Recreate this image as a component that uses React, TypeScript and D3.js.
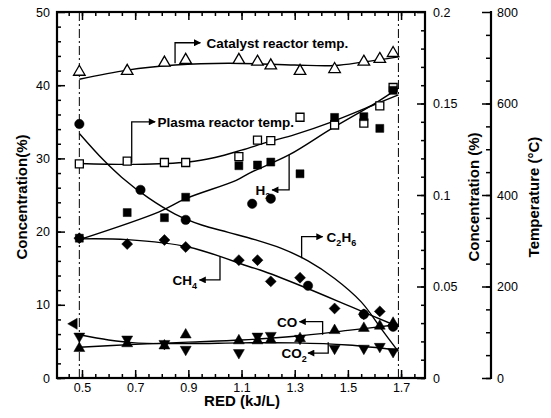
import { useEffect, useRef } from 'react';
import * as d3 from 'd3';

// RED (kJ/L) of the runs
const redX = [0.49, 0.67, 0.81, 0.89, 1.09, 1.16, 1.21, 1.32, 1.45, 1.56, 1.62, 1.67];
// concentrations (%) on left axis
const h2 = [19.1, 22.6, 21.9, 24.7, 29.0, 29.1, 29.5, 27.9, 35.6, 35.7, 34.1, 39.3];
const ch4 = [19.1, 18.3, 18.85, 17.9, 16.1, 16.1, 13.2, 13.7, 9.5, 8.7, 9.1, 7.2];
const co = [4.05, 4.7, 4.4, 5.9, 5.1, 5.1, 5.2, 5.4, 6.5, 6.8, 7.1, 7.5];
const co2 = [5.7, 5.3, 4.7, 3.9, 3.45, 5.7, 5.8, 5.4, 4.05, 4.05, 4.3, 3.6];
const c2h6X = [0.49, 0.72, 0.89, 1.14, 1.21, 1.35, 1.56, 1.67];
const c2h6 = [34.7, 25.7, 21.6, 23.8, 24.5, 12.6, 8.7, 7.0];
const strayX = [0.47];
const stray = [7.4];
// temperatures (°C) on far right axis
const catalystT = [669, 671, 689, 695, 695, 691, 683, 671, 675, 691, 697, 710];
const plasmaT = [468, 474, 471, 471, 484, 520, 519, 570, 553, 557, 595, 635];

// fitted curves
const h2FitX = [0.49, 0.79, 0.89, 1.08, 1.13, 1.28, 1.44, 1.61, 1.69];
const h2Fit = [18.9, 22.7, 24.5, 27.0, 28.0, 30.5, 34.1, 37.7, 39.6];
const c2h6FitX = [0.49, 0.58, 0.65, 0.75, 0.85, 0.95, 1.05, 1.15, 1.25, 1.35, 1.45, 1.55, 1.63, 1.69];
const c2h6Fit = [33.4, 29.8, 27.4, 24.6, 22.4, 20.9, 19.9, 18.9, 17.7, 16.0, 13.6, 10.4, 6.5, 3.6];
const ch4FitX = [0.49, 0.67, 0.9, 1.13, 1.17, 1.33, 1.52, 1.69];
const ch4Fit = [19.0, 18.9, 17.9, 15.2, 14.75, 12.5, 9.6, 7.0];
const coFitX = [0.49, 0.7, 0.9, 1.1, 1.3, 1.5, 1.69];
const coFit = [4.2, 4.6, 4.9, 5.2, 5.7, 6.5, 7.3];
const co2FitX = [0.49, 0.6, 0.7, 0.9, 1.1, 1.3, 1.5, 1.69];
const co2Fit = [5.9, 5.2, 4.8, 4.7, 4.8, 4.8, 4.5, 3.8];
const catFitX = [0.49, 0.67, 0.85, 1.05, 1.3, 1.45, 1.56, 1.69];
const catFit = [653, 673, 684, 688, 684, 683, 691, 702];
const plasmaFitX = [0.49, 0.7, 0.9, 1.0, 1.1, 1.2, 1.3, 1.44, 1.61, 1.69];
const plasmaFit = [469, 467, 472, 482, 498, 516, 532, 560, 600, 619];

const xTicks = [0.5, 0.7, 0.9, 1.1, 1.3, 1.5, 1.7];
const leftTicks = [0, 10, 20, 30, 40, 50];
const concTicks = [0, 0.05, 0.1, 0.15, 0.2];
const tempTicks = [0, 200, 400, 600, 800];
const limits = [0.49, 1.69];

const FONT = 'Liberation Sans, Arial, Helvetica, sans-serif';

export default function App() {
  const svgRef = useRef<SVGSVGElement>(null);

  useEffect(() => {
    if (!svgRef.current) return;
    const svg = d3.select(svgRef.current);
    svg.selectAll('*').remove();

    const left = 57, right = 425, top = 12, bottom = 378, tempX = 491;

    const x = d3.scaleLinear().domain([0.406, 1.79]).range([left, right]);
    const yL = d3.scaleLinear().domain([0, 50]).range([bottom, top]);
    const yC = d3.scaleLinear().domain([0, 0.2]).range([bottom, top]);
    const yT = d3.scaleLinear().domain([0, 800]).range([bottom, top]);

    const defs = svg.append('defs');
    defs.append('marker')
      .attr('id', 'arr')
      .attr('viewBox', '0 0 10 10')
      .attr('refX', 9).attr('refY', 5)
      .attr('markerWidth', 9).attr('markerHeight', 7)
      .attr('markerUnits', 'userSpaceOnUse')
      .attr('orient', 'auto')
      .append('path').attr('d', 'M0,0L10,5L0,10z').attr('fill', '#000');

    const styleAxis = (g: d3.Selection<SVGGElement, unknown, null, undefined>) => {
      g.select('.domain').remove();
      g.selectAll('.tick line').attr('stroke', '#000').attr('stroke-width', 1.5);
      g.selectAll('.tick text')
        .attr('fill', '#000')
        .style('font-family', FONT)
        .style('font-size', '12.5px');
    };
    const minorAxis = (g: d3.Selection<SVGGElement, unknown, null, undefined>) => {
      styleAxis(g);
      g.selectAll('.tick text').remove();
    };

    // bottom
    const xMinor = d3.range(0.45, 1.79, 0.05);
    svg.append('g').attr('transform', `translate(0,${bottom})`)
      .call(d3.axisBottom(x).tickValues(xMinor).tickSize(-4))
      .call(minorAxis);
    svg.append('g').attr('transform', `translate(0,${bottom})`)
      .call(d3.axisBottom(x).tickValues(xTicks).tickSizeInner(-8).tickSizeOuter(0).tickPadding(5).tickFormat(d3.format('.1f')))
      .call(styleAxis);
    // top
    svg.append('g').attr('transform', `translate(0,${top})`)
      .call(d3.axisTop(x).tickValues(xMinor).tickSize(-4))
      .call(minorAxis);
    svg.append('g').attr('transform', `translate(0,${top})`)
      .call(d3.axisTop(x).tickValues(xTicks).tickSize(-8))
      .call(minorAxis);
    // left
    svg.append('g').attr('transform', `translate(${left},0)`)
      .call(d3.axisLeft(yL).tickValues(d3.range(0, 50, 2)).tickSize(-4))
      .call(minorAxis);
    svg.append('g').attr('transform', `translate(${left},0)`)
      .call(d3.axisLeft(yL).tickValues(leftTicks).tickSizeInner(-8).tickSizeOuter(0).tickPadding(7).tickFormat(d3.format('d')))
      .call(styleAxis);
    // right concentration axis
    svg.append('g').attr('transform', `translate(${right},0)`)
      .call(d3.axisRight(yC).tickValues(d3.range(0, 0.2, 0.01)).tickSize(-4))
      .call(minorAxis);
    svg.append('g').attr('transform', `translate(${right},0)`)
      .call(d3.axisRight(yC).tickValues(concTicks).tickSizeInner(-8).tickSizeOuter(0).tickPadding(8).tickFormat((d) => String(d)))
      .call(styleAxis);
    // temperature axis
    svg.append('g').attr('transform', `translate(${tempX},0)`)
      .call(d3.axisRight(yT).tickValues(d3.range(0, 800, 50)).tickSize(-5))
      .call(minorAxis);
    svg.append('g').attr('transform', `translate(${tempX},0)`)
      .call(d3.axisRight(yT).tickValues(tempTicks).tickSizeInner(-9).tickSizeOuter(0).tickPadding(6).tickFormat(d3.format('d')))
      .call(styleAxis);
    svg.append('line')
      .attr('x1', tempX).attr('x2', tempX).attr('y1', top - 1).attr('y2', bottom + 1)
      .attr('stroke', '#000').attr('stroke-width', 2.2);

    // frame
    svg.append('rect')
      .attr('x', left).attr('y', top)
      .attr('width', right - left).attr('height', bottom - top)
      .attr('fill', 'none').attr('stroke', '#000').attr('stroke-width', 2.2);

    // dash-dot limits
    svg.selectAll('.limit').data(limits).join('line')
      .attr('x1', d => x(d)).attr('x2', d => x(d))
      .attr('y1', top).attr('y2', bottom)
      .attr('stroke', '#000').attr('stroke-width', 1)
      .attr('stroke-dasharray', '9,3,2,3');

    // fitted curves
    const fit = (xs: number[], ys: number[], yScale: d3.ScaleLinear<number, number>) => {
      const line = d3.line<number>()
        .x((_, i) => x(xs[i]))
        .y(d => yScale(d))
        .curve(d3.curveCatmullRom.alpha(0.5));
      svg.append('path').attr('d', line(ys))
        .attr('fill', 'none').attr('stroke', '#000').attr('stroke-width', 1.4);
    };
    fit(h2FitX, h2Fit, yL);
    fit(c2h6FitX, c2h6Fit, yL);
    fit(ch4FitX, ch4Fit, yL);
    fit(coFitX, coFit, yL);
    fit(co2FitX, co2Fit, yL);
    fit(catFitX, catFit, yT);
    fit(plasmaFitX, plasmaFit, yT);

    // markers
    const pts = (xs: number[], ys: number[], yScale: d3.ScaleLinear<number, number>,
      type: d3.SymbolType, size: number, rot: number, open: boolean) => {
      svg.append('g').selectAll('path').data(ys).join('path')
        .attr('d', d3.symbol().type(type).size(size)())
        .attr('transform', (d, i) => `translate(${x(xs[i])},${yScale(d)}) rotate(${rot})`)
        .attr('fill', open ? '#fff' : '#000')
        .attr('stroke', '#000').attr('stroke-width', open ? 1.3 : 0.5);
    };
    pts(redX, catalystT, yT, d3.symbolTriangle, 58, 0, true);
    pts(redX, plasmaT, yT, d3.symbolSquare, 64, 0, true);
    pts(redX, h2, yL, d3.symbolSquare, 64, 0, false);
    pts(redX, ch4, yL, d3.symbolSquare, 60, 45, false);
    pts(c2h6X, c2h6, yL, d3.symbolCircle, 70, 0, false);
    pts(redX, co, yL, d3.symbolTriangle, 52, 0, false);
    pts(redX, co2, yL, d3.symbolTriangle, 52, 180, false);
    pts(strayX, stray, yL, d3.symbolTriangle, 52, -90, false);

    // callouts
    const callout = (cx: number, y0: number, y1: number, x1: number) => {
      svg.append('path')
        .attr('d', `M${x(cx)},${yL(y0)}V${yL(y1)}H${x(x1)}`)
        .attr('fill', 'none').attr('stroke', '#000').attr('stroke-width', 1.3)
        .attr('marker-end', 'url(#arr)');
    };
    const label = (tx: number, ty: number, anchor: string, parts: [string, boolean][]) => {
      const t = svg.append('text')
        .attr('x', x(tx)).attr('y', yL(ty) + 5)
        .attr('text-anchor', anchor)
        .style('font-family', FONT).style('font-size', '13.5px').style('font-weight', 'bold');
      let shift = 0;
      parts.forEach(([s, sub]) => {
        const target = sub ? 4 : 0;
        t.append('tspan').text(s)
          .attr('dy', target - shift)
          .style('font-size', sub ? '9px' : '13.5px');
        shift = target;
      });
    };
    callout(0.85, 43.0, 45.8, 0.945);
    label(0.968, 45.8, 'start', [['Catalyst reactor temp.', false]]);
    callout(0.687, 29.4, 35.0, 0.775);
    label(0.784, 35.0, 'start', [['Plasma reactor temp.', false]]);
    callout(1.279, 30.5, 25.7, 1.215);
    label(1.208, 25.7, 'end', [['H', false], ['2', true]]);
    callout(1.326, 16.35, 19.3, 1.405);
    label(1.42, 19.3, 'start', [['C', false], ['2', true], ['H', false], ['6', true]]);
    callout(1.019, 16.6, 13.4, 0.942);
    label(0.933, 13.4, 'end', [['CH', false], ['4', true]]);
    callout(1.405, 5.9, 7.7, 1.318);
    label(1.31, 7.7, 'end', [['CO', false]]);
    callout(1.426, 4.9, 3.4, 1.35);
    label(1.345, 3.4, 'end', [['CO', false], ['2', true]]);

    // axis titles
    const title = (tx: number, ty: number, rot: number, s: string) => {
      svg.append('text')
        .attr('transform', `translate(${tx},${ty}) rotate(${rot})`)
        .attr('text-anchor', 'middle')
        .style('font-family', FONT).style('font-size', '15px').style('font-weight', 'bold')
        .text(s);
    };
    title(242, 406, 0, 'RED (kJ/L)');
    title(27, 197, -90, 'Concentration(%)');
    title(479, 197, -90, 'Concentration (%)');
    title(539, 197, -90, 'Temperature (\u00b0C)');
  }, []);

  return (
    <svg ref={svgRef} width={551} height={418}
      style={{ position: 'absolute', left: 0, top: 0, background: '#fff' }} />
  );
}
